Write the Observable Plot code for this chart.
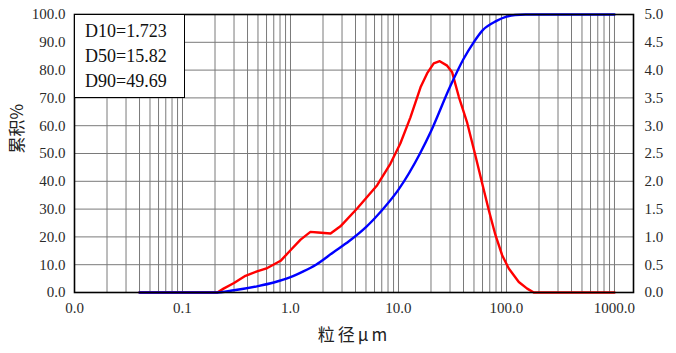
<!DOCTYPE html>
<html><head><meta charset="utf-8">
<script src="https://cdn.jsdelivr.net/npm/d3@7"></script>
<script src="https://cdn.jsdelivr.net/npm/@observablehq/plot@0.6"></script>
<style>
body{margin:0;background:#fff;}
#wrap{position:relative;width:676px;height:353px;}
#box{position:absolute;left:74px;top:14px;width:111px;height:84px;box-sizing:border-box;border:1.5px solid #000;background:#fff;
font-family:"Liberation Serif",serif;font-size:18px;line-height:25px;color:#111;padding:4px 0 0 10px;}
</style></head><body><div id="wrap"></div>
<script>
// particle size (μm) and cumulative % (left axis)
const cumSizes = [0.04, 0.1, 0.2, 0.3, 0.5, 0.7, 1.0, 1.3, 1.723, 2.5, 3.5, 5, 7, 10, 15.82, 20, 30, 40, 49.69, 60, 80, 100, 120, 150, 300, 1000];
const cumValues = [0, 0, 0, 0.8, 2.3, 3.6, 5.5, 7.5, 10, 14.5, 18.5, 23.5, 29.5, 37, 50, 58, 74, 84, 90, 94.3, 97.6, 99.2, 99.8, 100, 100, 100];
// particle size (μm) and differential % (right axis)
const diffSizes = [0.04, 0.1, 0.21, 0.24, 0.3, 0.383, 0.49, 0.61, 0.81, 1.0, 1.24, 1.53, 1.8, 2.35, 2.9, 4.14, 6.35, 8.43, 10.4, 12.9, 16.0, 18.4, 21.2, 24.1, 28.2, 31.4, 36.2, 43.3, 51.6, 59.6, 68.6, 79.1, 91.2, 105, 130, 155.5, 179, 1000];
const diffValues = [0, 0, 0, 0.07, 0.17, 0.30, 0.38, 0.44, 0.57, 0.76, 0.95, 1.09, 1.08, 1.06, 1.19, 1.51, 1.93, 2.32, 2.68, 3.15, 3.69, 3.94, 4.12, 4.16, 4.08, 3.96, 3.52, 3.05, 2.46, 1.96, 1.48, 1.03, 0.67, 0.43, 0.19, 0.07, 0, 0];
// axes
const xTicks = [0.01, 0.1, 1, 10, 100, 1000];
const leftTicks = [0, 10, 20, 30, 40, 50, 60, 70, 80, 90, 100];
const rightTicks = [0, 0.5, 1.0, 1.5, 2.0, 2.5, 3.0, 3.5, 4.0, 4.5, 5.0];
const leftMax = 100, rightMax = 5;
// annotation
const dNames = ["D10", "D50", "D90"];
const dValues = [1.723, 15.82, 49.69];
const xTitle = "粒径μm";
const yTitle = "累积%";

const factor = leftMax / rightMax;
const cum = cumSizes.map((d, i) => ({d, v: cumValues[i]}));
const diff = diffSizes.map((d, i) => ({d, v: diffValues[i] * factor}));
const gridX = xTicks.slice(0, -1).flatMap(p => d3.range(1, 10).map(m => +(m * p).toPrecision(3))).concat([xTicks[xTicks.length - 1]]);
const gridY = leftTicks.slice(1, -1);

const chart = Plot.plot({
  width: 676, height: 353,
  marginLeft: 74, marginRight: 43, marginTop: 14, marginBottom: 61,
  style: {fontFamily: "Liberation Serif, serif", fontSize: "15px", color: "#2a2a2a", background: "#fff"},
  x: {type: "log", domain: [0.01, 1500], label: null},
  y: {domain: [0, leftMax], label: null},
  marks: [
    Plot.ruleX(gridX, {stroke: "#7a7a7a", strokeWidth: 1}),
    Plot.ruleY(gridY, {stroke: "#7a7a7a", strokeWidth: 1}),
    Plot.axisX(xTicks, {tickFormat: d3.format(".1f"), tickSize: 0, tickPadding: 10, label: null}),
    Plot.axisY(leftTicks, {tickFormat: d => d.toFixed(1), tickSize: 0, tickPadding: 9, label: null}),
    Plot.axisY(rightTicks.map(v => v * factor), {anchor: "right", tickFormat: d => (d / factor).toFixed(1), tickSize: 0, tickPadding: 11, label: null}),
    Plot.line(diff, {x: "d", y: "v", stroke: "#ff0000", strokeWidth: 2.4}),
    Plot.line(cum, {x: "d", y: "v", stroke: "#0000ff", strokeWidth: 2.4, curve: "monotone-x"}),
    Plot.frame({stroke: "#000", strokeWidth: 1.6}),
    Plot.text([xTitle], {frameAnchor: "bottom", dy: 43, lineAnchor: "middle", fontSize: 17, fontFamily: "Noto Sans CJK SC", fill: "#222", text: d => d}),
    Plot.text([yTitle], {frameAnchor: "left", dx: -57, rotate: -90, lineAnchor: "middle", fontSize: 17, fontFamily: "Noto Sans CJK SC", fill: "#222", text: d => d})
  ]
});
chart.querySelectorAll("text").forEach(t => { if (t.textContent === xTitle) t.style.letterSpacing = "3px"; });
const wrap = document.getElementById("wrap");
wrap.appendChild(chart);
const box = document.createElement("div");
box.id = "box";
box.innerHTML = dNames.map((n, i) => `<div>${n}=${dValues[i]}</div>`).join("");
wrap.appendChild(box);
</script></body></html>
